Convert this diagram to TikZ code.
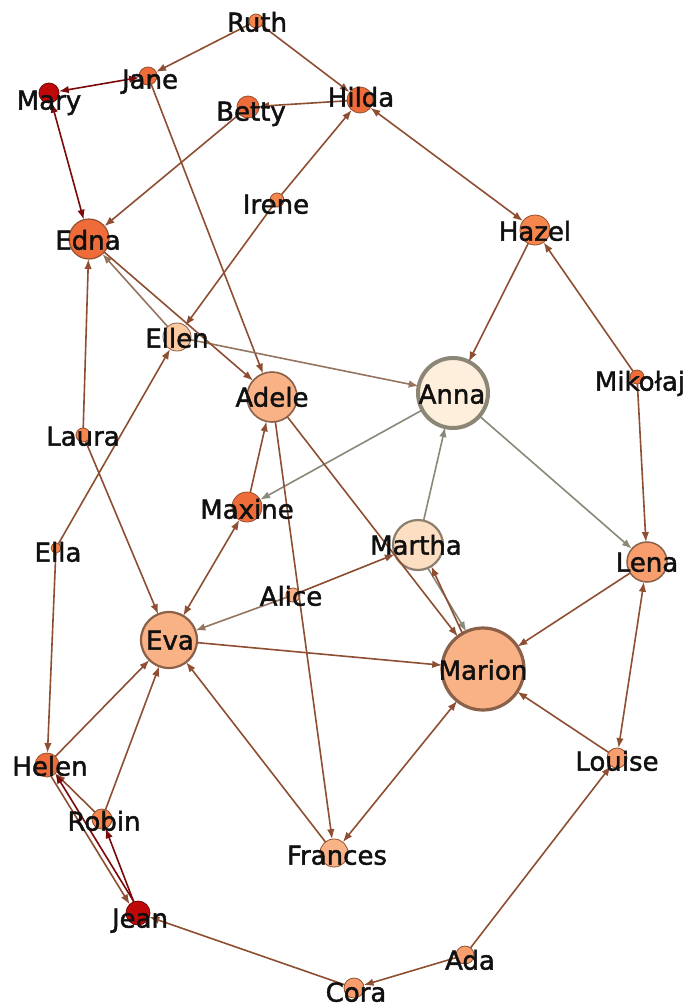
\documentclass[tikz,border=0pt]{standalone}
\usepackage{fontspec}
\setmainfont{DejaVu Sans}
\newfontfamily\lblfont[FakeBold=1.6]{DejaVu Sans}
\usetikzlibrary{arrows.meta}
\definecolor{cred}{HTML}{C00808}
\definecolor{cora}{HTML}{EE6C3A}
\definecolor{corb}{HTML}{F4864E}
\definecolor{corc}{HTML}{F89E6E}
\definecolor{cord}{HTML}{F9B286}
\definecolor{cellen}{HTML}{FBC9A2}
\definecolor{cmartha}{HTML}{FCDEC2}
\definecolor{canna}{HTML}{FDEFDC}
\definecolor{bord}{HTML}{94502E}
\definecolor{bordb}{HTML}{8A6048}
\definecolor{bordg}{HTML}{8C8676}
\definecolor{bordr}{HTML}{6E0808}
\definecolor{eb}{HTML}{8E4E32}
\definecolor{er}{HTML}{7A0A0A}
\definecolor{eg}{HTML}{8A8878}
\definecolor{egb}{HTML}{957460}
\definecolor{txt}{HTML}{101010}
\tikzset{
  vtx/.style={circle, draw=bord, line width=0.8pt, inner sep=0pt, outer sep=0pt},
  lbl/.style={font=\lblfont\fontsize{26}{26}\selectfont, inner sep=0pt, text=txt, text height=0.729em, text depth=0pt, yshift=-5pt},
  edg/.style={line width=1.6pt, draw=eb, -{Latex[length=10pt,width=7.5pt]}},
  bi/.style={line width=1.6pt, draw=eb, {Latex[length=10pt,width=7.5pt]}-{Latex[length=10pt,width=7.5pt]}},
}
\begin{document}
\begin{tikzpicture}[x=1pt,y=-1pt]
\useasboundingbox (0,0) rectangle (689,1007);
\fill[white] (0,0) rectangle (689,1007);
% vertices
\node[vtx, fill=corb, minimum size=14pt] (Ruth) at (256,21) {};
\node[vtx, fill=cora, minimum size=18pt] (Jane) at (148,76) {};
\node[vtx, fill=cred, draw=bordr, minimum size=20pt] (Mary) at (49,93) {};
\node[vtx, fill=cora, minimum size=22pt] (Betty) at (248,107) {};
\node[vtx, fill=cora, minimum size=26pt] (Hilda) at (360,100) {};
\node[vtx, fill=corb, minimum size=14pt] (Irene) at (277,200) {};
\node[vtx, fill=cora, minimum size=40pt, line width=1.2pt] (Edna) at (89,239) {};
\node[vtx, fill=corb, minimum size=30pt] (Hazel) at (535,230) {};
\node[vtx, fill=cellen, minimum size=28pt, draw=bordb] (Ellen) at (177,337) {};
\node[vtx, fill=cord, minimum size=50pt, draw=bordb, line width=1.6pt] (Adele) at (272,397) {};
\node[vtx, fill=canna, minimum size=70pt, draw=bordg, line width=4pt] (Anna) at (453,393) {};
\node[vtx, fill=cora, minimum size=14pt] (Mikolaj) at (637,377) {};
\node[vtx, fill=corb, minimum size=14pt] (Laura) at (83,435) {};
\node[vtx, fill=cora, minimum size=30pt] (Maxine) at (247,507) {};
\node[vtx, fill=cmartha, minimum size=50pt, draw=bordg!80!bordb, line width=2.2pt] (Martha) at (418,545) {};
\node[vtx, fill=corc, minimum size=40pt, draw=bordb, line width=1.5pt] (Lena) at (647,562) {};
\node[vtx, fill=corb, minimum size=10pt] (Ella) at (56,548) {};
\node[vtx, fill=cord, minimum size=14pt] (Alice) at (293,595) {};
\node[vtx, fill=cord, minimum size=56pt, draw=bordb, line width=2.2pt] (Eva) at (169,640) {};
\node[vtx, fill=cord, minimum size=82pt, draw=bordb, line width=3.2pt] (Marion) at (483,669) {};
\node[vtx, fill=corc, minimum size=20pt] (Louise) at (617,758) {};
\node[vtx, fill=cora, minimum size=24pt] (Helen) at (47,765) {};
\node[vtx, fill=corb, minimum size=20pt] (Robin) at (102,819) {};
\node[vtx, fill=cord, minimum size=28pt] (Frances) at (334,853) {};
\node[vtx, fill=cred, draw=bordr, minimum size=24pt] (Jean) at (138,913) {};
\node[vtx, fill=corc, minimum size=18pt] (Ada) at (465,955) {};
\node[vtx, fill=corc, minimum size=20pt] (Cora) at (354,988) {};
% edges
\draw[edg] (Ruth) -- (Jane);
\draw[edg] (Ruth) -- (Hilda);
\draw[bi, draw=er] (Jane) -- (Mary);
\draw[edg] (Jane) -- (Adele);
\draw[edg] (Hilda) -- (Betty);
\draw[edg] (Betty) -- (Edna);
\draw[edg] (Irene) -- (Hilda);
\draw[edg] (Irene) -- (Ellen);
\draw[bi] (Hilda) -- (Hazel);
\draw[bi, draw=er] (Mary) -- (Edna);
\draw[edg] (Hazel) -- (Anna);
\draw[edg] (Mikolaj) -- (Hazel);
\draw[edg] (Mikolaj) -- (Lena);
\draw[edg, draw=eg] (Anna) -- (Maxine);
\draw[edg, draw=eg] (Anna) -- (Lena);
\draw[edg, draw=eg] (Martha) -- (Anna);
\draw[edg, draw=egb] (Ellen) -- (Anna);
\draw[edg, draw=egb] (Ellen) -- (Edna);
\draw[edg] (Edna) -- (Adele);
\draw[edg] (Laura) -- (Edna);
\draw[edg] (Laura) -- (Eva);
\draw[edg] (Ella) -- (Ellen);
\draw[edg] (Ella) -- (Helen);
\draw[edg] (Maxine) -- (Adele);
\draw[edg] (Adele) -- (Frances);
\draw[edg] (Adele) -- (Marion);
\draw[bi] (Maxine) -- (Eva);
\draw[edg, draw=egb] (Alice) -- (Eva);
\draw[edg] (Alice) -- (Martha);
\draw[edg] (Eva) -- (Marion);
\draw[edg, draw=eg] (Martha.-67) -- (Marion.114);
\draw[edg] (Marion.120) -- (Martha.-58);
\draw[edg] (Lena) -- (Marion);
\draw[bi] (Lena) -- (Louise);
\draw[edg] (Louise) -- (Marion);
\draw[edg] (Ada) -- (Louise);
\draw[edg] (Ada) -- (Cora);
\draw[edg] (Cora) -- (Jean);
\draw[bi] (Marion) -- (Frances);
\draw[edg] (Frances) -- (Eva);
\draw[edg] (Helen) -- (Eva);
\draw[edg] (Robin) -- (Eva);
\draw[edg] (Robin) -- (Helen);
\draw[edg, draw=er] (Jean) -- (Robin);
\draw[edg] (Helen.-70) -- (Jean.134);
\draw[edg, draw=er] (Jean.110) -- (Helen.-46);
% labels
\node[lbl] (Ruth-l) at (257,23) {Ruth};
\node[lbl] (Jane-l) at (150,80) {Jane};
\node[lbl] (Mary-l) at (49,101) {Mary};
\node[lbl] (Betty-l) at (251,112) {Betty};
\node[lbl] (Hilda-l) at (361,98) {Hilda};
\node[lbl] (Irene-l) at (276,205) {Irene};
\node[lbl] (Edna-l) at (88,241) {Edna};
\node[lbl] (Hazel-l) at (535,232) {Hazel};
\node[lbl] (Ellen-l) at (177,339) {Ellen};
\node[lbl] (Adele-l) at (272,398) {Adele};
\node[lbl] (Anna-l) at (452,395) {Anna};
\node[lbl] (Mikolaj-l) at (640,382) {Mikołaj};
\node[lbl] (Laura-l) at (83,437) {Laura};
\node[lbl] (Maxine-l) at (247,510) {Maxine};
\node[lbl] (Martha-l) at (416,546) {Martha};
\node[lbl] (Lena-l) at (647,563) {Lena};
\node[lbl] (Ella-l) at (58,553) {Ella};
\node[lbl] (Alice-l) at (291,597) {Alice};
\node[lbl] (Eva-l) at (170,641) {Eva};
\node[lbl] (Marion-l) at (483,671) {Marion};
\node[lbl] (Louise-l) at (617,762) {Louise};
\node[lbl] (Helen-l) at (50,767) {Helen};
\node[lbl] (Robin-l) at (104,822) {Robin};
\node[lbl] (Frances-l) at (337,856) {Frances};
\node[lbl] (Jean-l) at (140,919) {Jean};
\node[lbl] (Ada-l) at (470,961) {Ada};
\node[lbl] (Cora-l) at (356,993) {Cora};
\end{tikzpicture}
\end{document}
